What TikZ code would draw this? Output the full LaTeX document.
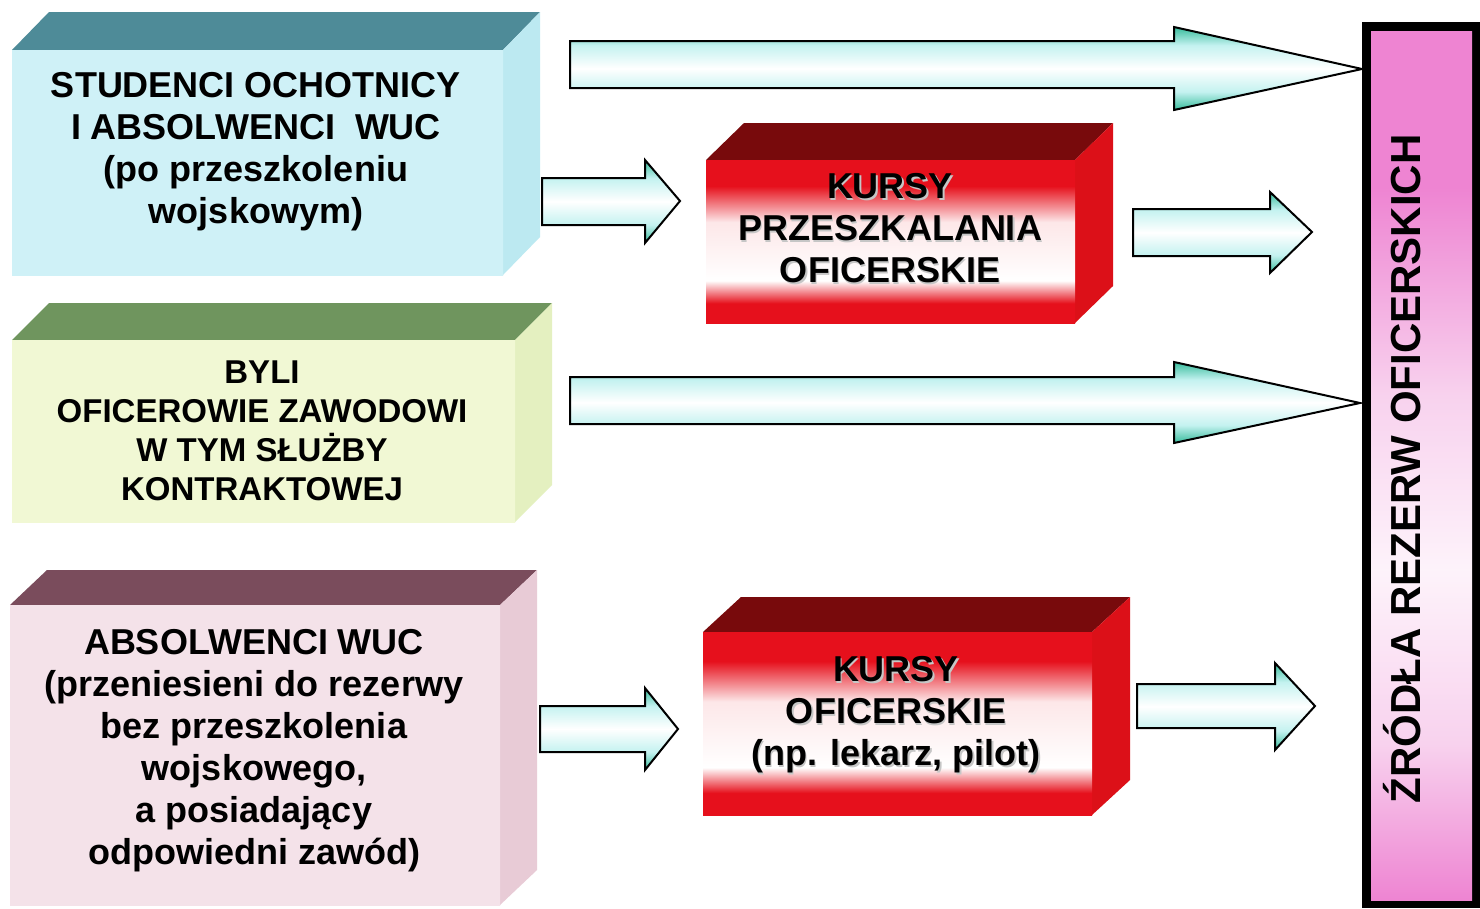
\documentclass[tikz,border=0pt]{standalone}
\usepackage{fontspec}
\setmainfont{Liberation Sans}
\usetikzlibrary{calc}
\definecolor{kred}{HTML}{E6101C}
\definecolor{kredtop}{HTML}{780A0C}
\definecolor{kredside}{HTML}{DC1018}
\definecolor{ateal}{HTML}{38BC9C}
\definecolor{acyan}{HTML}{C4F2F0}
\definecolor{bpink}{HTML}{EE84D2}
\definecolor{bpale}{HTML}{F8D2EE}
\definecolor{cytop}{HTML}{4E8B98}
\definecolor{cyfront}{HTML}{CFF1F7}
\definecolor{cyside}{HTML}{BCE9F1}
\definecolor{grtop}{HTML}{6F955E}
\definecolor{grfront}{HTML}{F1F8D4}
\definecolor{grside}{HTML}{E4F0C0}
\definecolor{pktop}{HTML}{7A4C5C}
\definecolor{pkfront}{HTML}{F4E2E9}
\definecolor{pkside}{HTML}{E8CBD6}
\pgfdeclareverticalshading{redfront}{100bp}{color(0bp)=(kred); color(31bp)=(kred); color(38bp)=(white); color(56bp)=(white!90!kred); color(67bp)=(kred); color(100bp)=(kred)}
\pgfdeclareverticalshading{arrowsh}{100bp}{color(0bp)=(ateal); color(25bp)=(ateal); color(36bp)=(acyan); color(50bp)=(white); color(64bp)=(acyan); color(75bp)=(ateal); color(100bp)=(ateal)}
\pgfdeclareverticalshading{barsh}{100bp}{color(0bp)=(bpink); color(25bp)=(bpink); color(34bp)=(bpale); color(44bp)=(white!90!bpink); color(54bp)=(bpale); color(66bp)=(bpink); color(75bp)=(bpink); color(100bp)=(bpink)}
\tikzset{
  boxtext/.style={font=\bfseries\fontsize{36}{42}\selectfont, align=center, inner sep=0pt, text=black},
  smalltext/.style={font=\bfseries\fontsize{33}{39}\selectfont, align=center, inner sep=0pt, text=black},
  bararrow/.style={draw=black, line width=2pt, line join=miter, shading=arrowsh},
}
% cuboid: x0,y0 (front top-left), x1,y1 (front bottom-right), dx, dy, top colour, side colour
\newcommand\mycuboid[8]{%
  \fill[#7] (#1,#2) -- (#3,#2) -- ({#3+#5},{#2-#6}) -- ({#1+#5},{#2-#6}) -- cycle;
  \fill[#8] (#3,#2) -- ({#3+#5},{#2-#6}) -- ({#3+#5},{#4-#6}) -- (#3,#4) -- cycle;
}
% block arrow: x0, xh, body top, body bottom, head top, head bottom, tip x, tip y
\newcommand\myblockarrow[8]{%
  \path[bararrow] (#1,#3) -- (#2,#3) -- (#2,#5) -- (#7,#8) -- (#2,#6) -- (#2,#4) -- (#1,#4) -- cycle;
}
\begin{document}
\begin{tikzpicture}[x=1pt,y=-1pt]
\useasboundingbox (0,0) rectangle (1480,908);
\fill[white] (0,0) rectangle (1480,908);

% ---- box 1 (cyan)
\mycuboid{12}{50}{503}{275}{37}{38}{cytop}{cyside}
\shade[top color=cyfront, middle color=white!88!cyfront, bottom color=cyfront] (12,50) rectangle (503,275);
\node[boxtext] (b1) at (256,152) {STUDENCI OCHOTNICY\\I ABSOLWENCI\ \ WUC\\(po przeszkoleniu\\wojskowym)};

% ---- box 2 (green)
\mycuboid{12}{340}{515}{522}{37}{37}{grtop}{grside}
\shade[top color=grfront, middle color=white!85!grfront, bottom color=grfront] (12,340) rectangle (515,522);
\node[smalltext] (b2) at (262,431) {BYLI\\OFICEROWIE ZAWODOWI\\W TYM SŁUŻBY\\KONTRAKTOWEJ};

% ---- box 3 (pink)
\mycuboid{10}{605}{500}{905}{37}{35}{pktop}{pkside}
\shade[top color=pkfront, middle color=white!85!pkfront, bottom color=pkfront] (10,605) rectangle (500,905);
\node[boxtext] (b3) at (254,751) {ABSOLWENCI WUC\\(przeniesieni do rezerwy\\bez przeszkolenia\\wojskowego,\\a posiadający\\odpowiedni zawód)};

% ---- red box 1
\mycuboid{706}{160}{1075}{323}{38}{37}{kredtop}{kredside}
\shade[shading=redfront] (706,160) rectangle (1075,323);
\node[boxtext, text=gray!45] at (891.5,230) {KURSY\\PRZESZKALANIA\\OFICERSKIE};
\node[boxtext] (k1) at (890,228.5) {KURSY\\PRZESZKALANIA\\OFICERSKIE};

% ---- red box 2
\mycuboid{703}{632}{1092}{815}{38}{35}{kredtop}{kredside}
\shade[shading=redfront] (703,632) rectangle (1092,815);
\node[boxtext, text=gray!45] at (897.5,716.5) {KURSY\\OFICERSKIE\\(np. lekarz, pilot)};
\node[boxtext] (k2) at (896,715) {KURSY\\OFICERSKIE\\(np. lekarz, pilot)};

% ---- right bar
\fill[black] (1362,22) rectangle (1480,908);
\shade[shading=barsh] (1371,31) rectangle (1472,900);
\node[font=\bfseries\fontsize{42}{50}\selectfont, rotate=90, anchor=base, inner sep=0pt] (bar) at (1420,469) {ŹRÓDŁA REZERW OFICERSKICH};

% ---- arrows
\myblockarrow{570}{1174}{41}{88}{27}{110}{1362}{69}
\myblockarrow{542}{645}{178}{225}{160}{243}{680}{201}
\myblockarrow{1133}{1270}{209}{256}{192}{273}{1312}{232}
\myblockarrow{570}{1174}{377}{424}{362}{443}{1360}{403}
\myblockarrow{540}{645}{706}{752}{688}{770}{678}{729}
\myblockarrow{1137}{1275}{684}{728}{663}{750}{1315}{706}
\end{tikzpicture}
\end{document}
